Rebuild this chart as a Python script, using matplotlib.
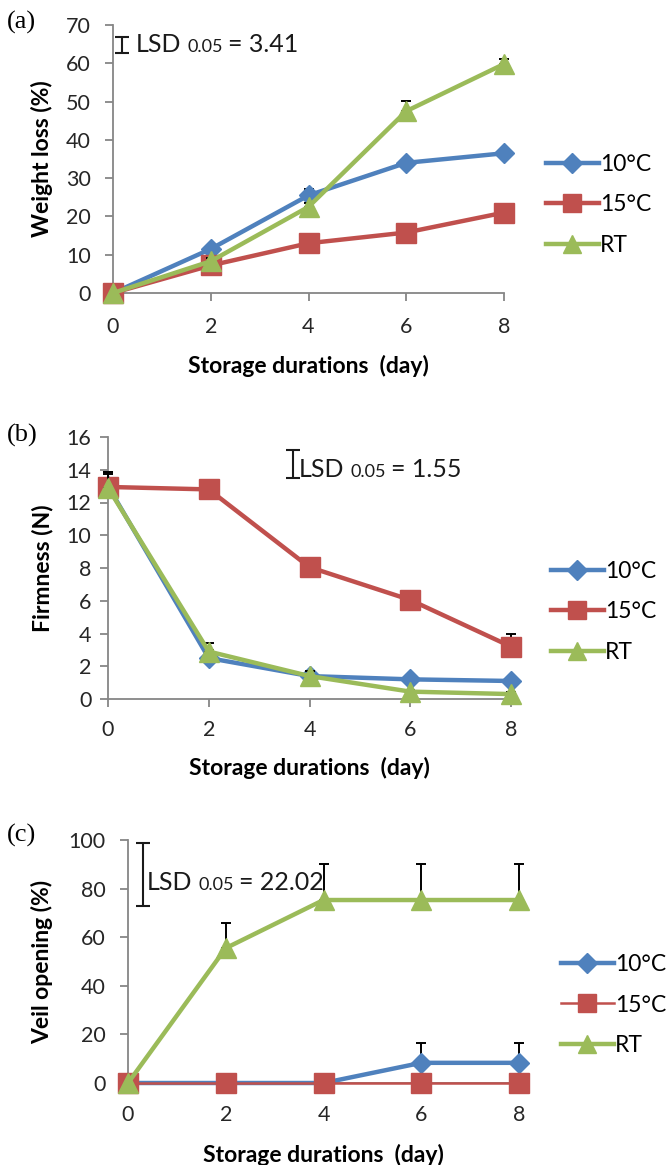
import matplotlib
matplotlib.use('Agg')
import matplotlib.pyplot as plt
from matplotlib.offsetbox import TextArea, HPacker, AnnotationBbox
import numpy as np

# ---------------- data ----------------
days = [0, 2, 4, 6, 8]
series_names = ['10°C', '15°C', 'RT']

# (a) weight loss (%)
wl_10 = [0, 11.5, 25.5, 34.0, 36.5]
wl_15 = [0, 7.2, 13.0, 15.8, 21.0]
wl_rt = [0, 8.3, 22.5, 47.5, 59.8]
wl_err_10 = [0, 0.8, 1.6, 1.0, 1.0]
wl_err_15 = [0, 0.6, 0.8, 0.8, 0.8]
wl_err_rt = [0, 0.8, 1.0, 2.6, 1.4]
wl_lsd = 3.41
wl_lsd_bar = (62.7, 66.8)

# (b) firmness (N)
fi_10 = [13.0, 2.5, 1.4, 1.2, 1.1]
fi_15 = [12.95, 12.8, 8.05, 6.05, 3.2]
fi_rt = [12.9, 2.9, 1.4, 0.45, 0.3]
fi_err_10 = [0.85, 0.5, 0.3, 0.2, 0.2]
fi_err_15 = [0.8, 0.4, 0.4, 0.4, 0.8]
fi_err_rt = [0.95, 0.5, 0.3, 0.1, 0.1]
fi_lsd = 1.55
fi_lsd_bar = (13.5, 15.2)

# (c) veil opening (%)
vo_10 = [0, 0, 0, 8.3, 8.3]
vo_15 = [0, 0, 0, 0, 0]
vo_rt = [0, 55.5, 75.3, 75.3, 75.3]
vo_err_10 = [0, 0, 0, 8.2, 8.2]
vo_err_15 = [0, 0, 0, 0, 0]
vo_err_rt = [0, 10.3, 15.0, 14.7, 14.7]
vo_lsd = 22.02
vo_lsd_bar = (72.8, 98.8)

# ---------------- style ----------------
plt.rcParams['font.family'] = ['Lato', 'DejaVu Sans']
W, H = 672, 1165
fig = plt.figure(figsize=(W / 100, H / 100), dpi=100)

COLORS = ['#4F81BD', '#C0504D', '#9BBB59']
MARKERS = ['D', 's', '^']
MS = [10.5, 14, 14]
SPINE = '#868686'
TICKTXT = '#262626'


def add_panel(box, ylim, yticks, series, errs, lws, lsd_x, lsd_bar, lsd_val,
              lsd_text_xy, ylabel, tag, tag_xy, legend_xy, xlab_y, ypad, xpad):
    left, top, right, bottom = box
    ax = fig.add_axes([left / W, 1 - bottom / H, (right - left) / W, (bottom - top) / H])
    ax.set_xlim(0, 8)
    ax.set_ylim(*ylim)
    ax.set_xticks(days)
    ax.set_yticks(yticks)
    for s in ['top', 'right']:
        ax.spines[s].set_visible(False)
    for s in ['left', 'bottom']:
        ax.spines[s].set_color(SPINE)
        ax.spines[s].set_linewidth(1.3)
    ax.tick_params(axis='both', colors=SPINE, length=6, width=1.3, direction='out',
                   labelsize=15.5, labelcolor=TICKTXT)
    ax.tick_params(axis='y', pad=ypad)
    ax.tick_params(axis='x', pad=xpad)
    ax.patch.set_alpha(0)

    handles = []
    for i, (vals, err) in enumerate(zip(series, errs)):
        z = 3 + i
        ln, = ax.plot(days, vals, color=COLORS[i], lw=lws[i], marker=MARKERS[i],
                      ms=MS[i], mfc=COLORS[i], mec=COLORS[i], clip_on=False,
                      zorder=z, label=series_names[i], solid_joinstyle='round')
        handles.append(ln)
        xs = [d for d, e in zip(days, err) if e > 0]
        ys = [v for v, e in zip(vals, err) if e > 0]
        es = [e for e in err if e > 0]
        if xs:
            ax.errorbar(xs, ys, yerr=[np.zeros(len(es)), es], fmt='none',
                        ecolor='black', elinewidth=1.4, capsize=3.5, capthick=1.4,
                        clip_on=False, zorder=z - 0.5)

    # LSD bar
    lo, hi = lsd_bar
    ax.errorbar([lsd_x], [(lo + hi) / 2], yerr=[[(hi - lo) / 2], [(hi - lo) / 2]],
                fmt='none', ecolor='#1a1a1a', elinewidth=1.5, capsize=5,
                capthick=1.5, clip_on=False, zorder=10)
    pack = HPacker(children=[TextArea('LSD', textprops=dict(size=18, color='#1a1a1a')),
                             TextArea('0.05', textprops=dict(size=13, color='#1a1a1a')),
                             TextArea('= ' + f'{lsd_val:.2f}',
                                      textprops=dict(size=18, color='#1a1a1a'))],
                   align='baseline', pad=0, sep=4)
    ab = AnnotationBbox(pack, (lsd_text_xy[0] / W, 1 - lsd_text_xy[1] / H),
                        xycoords='figure fraction', box_alignment=(0, 0.5),
                        frameon=False, pad=0)
    fig.add_artist(ab)

    ax.set_ylabel(ylabel, fontsize=16.5, fontweight='bold', color='black')
    ax.yaxis.set_label_coords(-(left - 42) / (right - left), 0.5)
    ax.set_xlabel('Storage durations  (day)', fontsize=16.5, fontweight='bold', color='black')
    ax.xaxis.set_label_coords(0.5, -(xlab_y - bottom) / (bottom - top))
    ax.xaxis.label.set_va('center')
    ax.yaxis.label.set_va('center')

    fig.text(tag_xy[0] / W, 1 - tag_xy[1] / H, tag, family='Liberation Serif',
             fontsize=19, ha='left', va='center')

    fig.legend(handles, series_names, loc='center left',
               bbox_to_anchor=(legend_xy[0] / W, 1 - legend_xy[1] / H),
               frameon=False, fontsize=16.5, handlelength=2.3, handletextpad=0.05,
               labelspacing=0.85, borderpad=0, borderaxespad=0, numpoints=1,
               markerscale=0.95)
    return ax


add_panel((113, 25, 504, 293), (0, 70), range(0, 71, 10),
          [wl_10, wl_15, wl_rt], [wl_err_10, wl_err_15, wl_err_rt], [3.2, 3.2, 3.2],
          0.18, wl_lsd_bar, wl_lsd, (136, 45), 'Weight loss (%)', '(a)', (7, 22),
          (546, 205), 366, 10, 11)

add_panel((108, 437, 511, 699), (0, 16), range(0, 17, 2),
          [fi_10, fi_15, fi_rt], [fi_err_10, fi_err_15, fi_err_rt], [3.2, 3.2, 3.2],
          3.68, fi_lsd_bar, fi_lsd, (299, 470), 'Firmness (N)', '(b)', (7, 435),
          (551, 612), 768, 6, 9)

add_panel((128, 840, 519, 1083), (0, 100), range(0, 101, 20),
          [vo_10, vo_15, vo_rt], [vo_err_10, vo_err_15, vo_err_rt], [3.2, 1.8, 3.2],
          0.3, vo_lsd_bar, vo_lsd, (147, 883), 'Veil opening (%)', '(c)', (7, 835),
          (561, 1005), 1155, 10, 10)

fig.savefig('out.png', dpi=100)
